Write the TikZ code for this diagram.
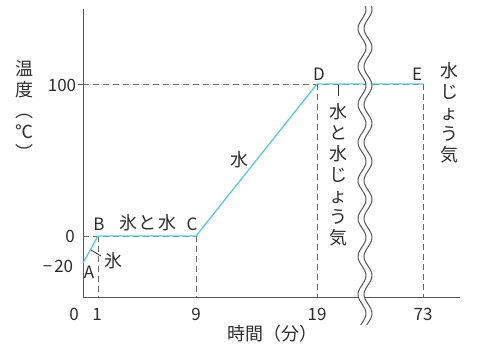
\documentclass[tikz,border=0pt]{standalone}
\usepackage{fontspec}
\setmainfont{Noto Sans CJK JP}
\definecolor{ink}{RGB}{45,45,45}
\definecolor{axisgray}{RGB}{85,85,85}
\definecolor{guidegray}{RGB}{105,105,105}
\definecolor{curvecyan}{RGB}{95,200,218}
\begin{document}
\begin{tikzpicture}[x=1pt,y=-1pt,
  axisline/.style={draw=axisgray, line width=1pt},
  guide/.style={draw=guidegray, line width=0.9pt, dash pattern=on 6pt off 4pt},
  curve/.style={draw=curvecyan, line width=1.3pt, line join=round},
  lbl/.style={text=ink, inner sep=0pt, font=\fontsize{17}{17}\selectfont},
  jlbl/.style={text=ink, inner sep=0pt, font=\fontsize{18}{18}\selectfont},
  vlbl/.style={text=ink, inner sep=0pt, align=center, font=\fontsize{18}{21}\selectfont},
  wave/.style={draw=axisgray, line width=1pt},
  leader/.style={draw=ink, line width=0.8pt}]
\useasboundingbox (0,0) rectangle (478,349);
% key points
\coordinate (O) at (83,297);
\coordinate (Ytop) at (83,9);
\coordinate (Xend) at (460,297);
\coordinate (Y100) at (83,84);
\coordinate (Y0) at (83,236);
\coordinate (A) at (83,263);
\coordinate (B) at (98,236);
\coordinate (C) at (196,236);
\coordinate (D) at (317,84);
\coordinate (E) at (423,84);
% guides
\draw[guide] (Y100) -- (E);
\draw[guide] (Y0) -- (C);
\draw[guide] (B) -- (B |- O);
\draw[guide] (C) -- (C |- O);
\draw[guide] (D) -- (D |- O);
\draw[guide] (E) -- (E |- O);
% axes
\draw[axisline] (Ytop) -- (O) -- (Xend);
\draw[axisline] (78,84) -- (Y100);
% curve
\draw[curve] (A) -- (B) -- (C) -- (D) -- (E);
% break
\fill[white] plot[domain=6:325, samples=160, smooth] ({362+4*sin(\x*9.4737)},\x)
  -- plot[domain=325:6, samples=160, smooth] ({368+4*sin(\x*9.4737)},\x) -- cycle;
\draw[wave] plot[domain=6:325, samples=160, smooth] ({362+4*sin(\x*9.4737)},\x);
\draw[wave] plot[domain=6:325, samples=160, smooth] ({368+4*sin(\x*9.4737)},\x);
% leaders
\coordinate (l1a) at (91,250);
\coordinate (l1b) at (101,256);
\draw[leader] (l1a) -- (l1b);
\coordinate (l2a) at (338,85);
\coordinate (l2b) at (338,96);
\draw[leader] (l2a) -- (l2b);
% tick labels
\node[lbl] (t100) at (62,85) {100};
\node[lbl] (t0) at (70,236) {0};
\node[lbl] (tm20) at (58,266) {−\kern2pt 20};
\node[lbl] (x0) at (74,314) {0};
\node[lbl] (x1) at (97,314) {1};
\node[lbl] (x9) at (196,314) {9};
\node[lbl] (x19) at (317,314) {19};
\node[lbl] (x73) at (423,314) {73};
% point labels
\node[lbl] (lA) at (89,272) {A};
\node[lbl] (lB) at (99,224) {B};
\node[lbl] (lC) at (192,224) {C};
\node[lbl] (lD) at (319,74) {D};
\node[lbl] (lE) at (417,74) {E};
% phase labels
\node[jlbl] (ice) at (113,261) {氷};
\node[jlbl] (icewater) at (148,223) {氷\kern1.5pt と\kern1.5pt 水};
\node[jlbl] (water) at (239,160) {水};
\node[vlbl, anchor=north] (boil) at (338,103) {水\\と\\水\\じ\\ょ\\う\\気};
\node[vlbl, anchor=north] (steam) at (449,62) {水\\じ\\ょ\\う\\気};
% axis titles
\node[vlbl, anchor=north] (ytitle) at (25,60) {温\\度\\︵\\℃\\︶};
\node[jlbl] (xtitle) at (272,334) {時間（分）};
\end{tikzpicture}
\end{document}
